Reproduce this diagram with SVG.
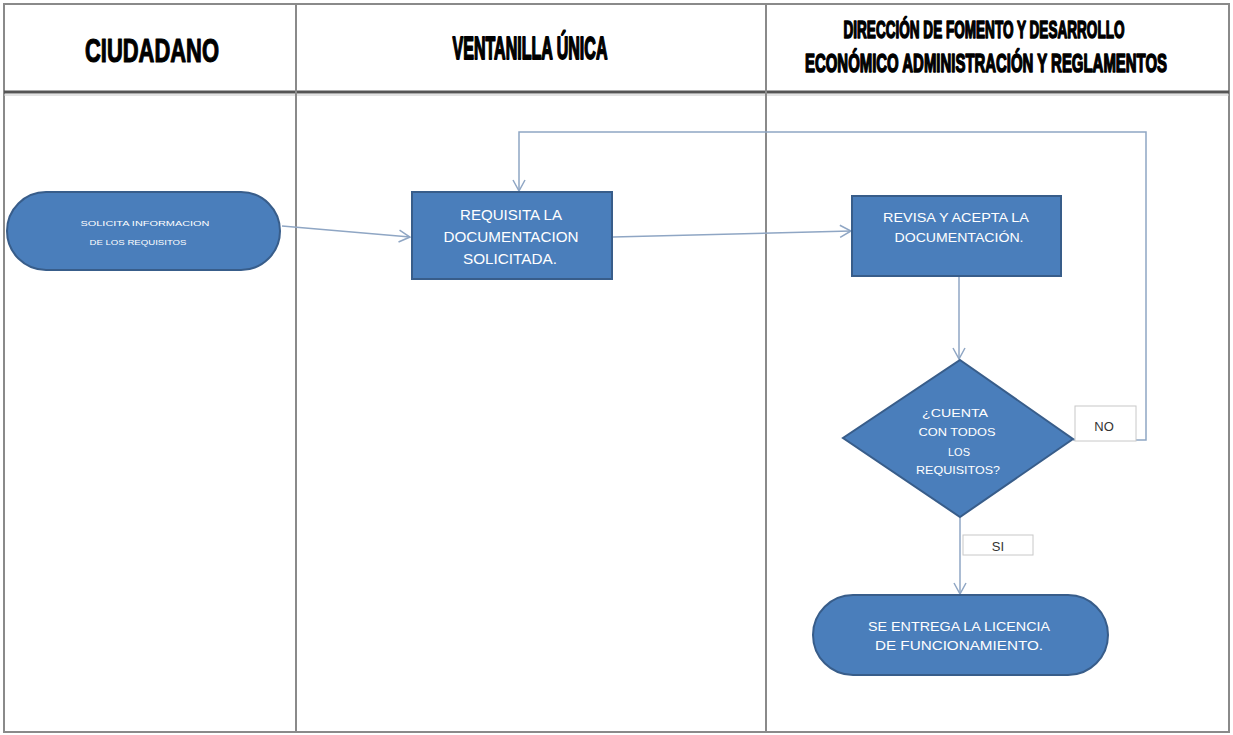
<svg xmlns="http://www.w3.org/2000/svg" width="1233" height="735" viewBox="0 0 1233 735">
<defs>
<style>
.lane{fill:none;stroke:#8a8a8a;stroke-width:2}
.hdr{font-family:"Liberation Sans",Arial,sans-serif;font-weight:bold;fill:#000;stroke:#000;stroke-width:0.9;stroke-linejoin:round;text-anchor:middle}
.node{fill:#4a7ebb;stroke:#385d8a;stroke-width:2}
.nt{font-family:"Liberation Sans",Arial,sans-serif;fill:#fff;text-anchor:middle}
.conn{fill:none;stroke:#8fa6c4;stroke-width:1.5}
.lbl{fill:#fff;stroke:#c8c8c8;stroke-width:1}
.lt{font-family:"Liberation Sans",Arial,sans-serif;fill:#333;font-size:13px;text-anchor:middle}
</style>
<marker id="arr" markerWidth="14" markerHeight="14" refX="12" refY="7" orient="auto" markerUnits="userSpaceOnUse">
<path d="M1,1 L12,7 L1,13" fill="none" stroke="#8fa6c4" stroke-width="1.5"/>
</marker>
</defs>
<rect width="1233" height="735" fill="#fff"/>
<g id="lanes">
<rect class="lane" x="4" y="4" width="1225" height="728"/>
<line x1="4" y1="92" x2="1229" y2="92" stroke="#555" stroke-width="3"/>
<line x1="4" y1="95" x2="1229" y2="95" stroke="#c8c8c8" stroke-width="1"/>
<line class="lane" x1="296" y1="4" x2="296" y2="732"/>
<line class="lane" x1="766" y1="4" x2="766" y2="732"/>
<text class="hdr" transform="scale(1,1.32)" x="152" y="47" font-size="25" textLength="134" lengthAdjust="spacingAndGlyphs">CIUDADANO</text>
<text class="hdr" transform="scale(1,2.0)" x="530" y="29.5" font-size="16" textLength="155" lengthAdjust="spacingAndGlyphs">VENTANILLA ÚNICA</text>
<text class="hdr" transform="scale(1,1.72)" x="984" y="22.1" font-size="13.5" textLength="281" lengthAdjust="spacingAndGlyphs">DIRECCIÓN DE FOMENTO Y DESARROLLO</text>
<text class="hdr" transform="scale(1,1.76)" x="986" y="40.9" font-size="14.7" textLength="362" lengthAdjust="spacingAndGlyphs">ECONÓMICO ADMINISTRACIÓN Y REGLAMENTOS</text>
</g>
<g id="connectors">
<line class="conn" x1="282" y1="226" x2="410" y2="237" marker-end="url(#arr)"/>
<line class="conn" x1="613" y1="237" x2="851" y2="231" marker-end="url(#arr)"/>
<line class="conn" x1="959" y1="277" x2="959" y2="359" marker-end="url(#arr)"/>
<polyline class="conn" points="1073,440 1146,440 1146,132 519,132 519,191" marker-end="url(#arr)"/>
<line class="conn" x1="960" y1="518" x2="960" y2="594" marker-end="url(#arr)"/>
<rect class="lbl" x="1075" y="406" width="61" height="35"/>
<text class="lt" x="1104" y="431">NO</text>
<rect class="lbl" x="963" y="535" width="70" height="20"/>
<text class="lt" x="998" y="551">SI</text>
</g>
<g id="n1">
<rect class="node" x="7" y="192" width="273" height="78" rx="39"/>
<text class="nt" font-size="8"><tspan x="145" y="226" textLength="129" lengthAdjust="spacingAndGlyphs">SOLICITA INFORMACION</tspan><tspan x="138" y="245" textLength="97" lengthAdjust="spacingAndGlyphs">DE LOS REQUISITOS</tspan></text>
</g>
<g id="n2">
<rect class="node" x="412" y="192" width="200" height="87"/>
<text class="nt" font-size="14"><tspan x="511" y="220" textLength="102" lengthAdjust="spacingAndGlyphs">REQUISITA LA</tspan><tspan x="511" y="242" textLength="135" lengthAdjust="spacingAndGlyphs">DOCUMENTACION</tspan><tspan x="510" y="264" textLength="94" lengthAdjust="spacingAndGlyphs">SOLICITADA.</tspan></text>
</g>
<g id="n3">
<rect class="node" x="852" y="196" width="209" height="80"/>
<text class="nt" font-size="13.5"><tspan x="956" y="222" textLength="146" lengthAdjust="spacingAndGlyphs">REVISA Y ACEPTA LA</tspan><tspan x="959" y="242" textLength="129" lengthAdjust="spacingAndGlyphs">DOCUMENTACIÓN.</tspan></text>
</g>
<g id="n4">
<polygon class="node" points="960,360 1073,439 960,517 843,438"/>
<text class="nt" font-size="11"><tspan x="955" y="417" textLength="66" lengthAdjust="spacingAndGlyphs">¿CUENTA</tspan><tspan x="957" y="436" textLength="77" lengthAdjust="spacingAndGlyphs">CON TODOS</tspan><tspan x="959" y="456" textLength="22" lengthAdjust="spacingAndGlyphs">LOS</tspan><tspan x="958" y="474" textLength="84" lengthAdjust="spacingAndGlyphs">REQUISITOS?</tspan></text>
</g>
<g id="n5">
<rect class="node" x="813" y="595" width="295" height="80" rx="40"/>
<text class="nt" font-size="13"><tspan x="959" y="631" textLength="182" lengthAdjust="spacingAndGlyphs">SE ENTREGA LA LICENCIA</tspan><tspan x="959" y="650" textLength="168" lengthAdjust="spacingAndGlyphs">DE FUNCIONAMIENTO.</tspan></text>
</g>
</svg>
